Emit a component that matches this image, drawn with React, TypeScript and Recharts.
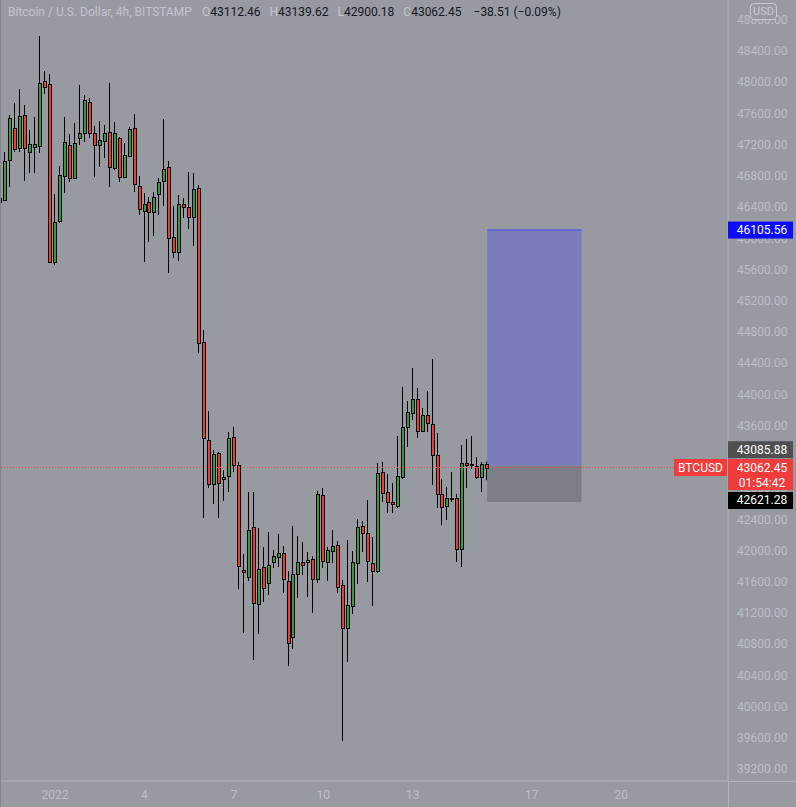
import React from 'react';
import {
  ComposedChart,
  Bar,
  XAxis,
  YAxis,
  ReferenceLine,
  ReferenceArea,
} from 'recharts';

// BTCUSD 4h candles, first visible bar = Dec 30 04:00 (index 0)
const opens = [
  46465, 46491, 47003, 47413, 47157, 47580, 47106, 47170, 47183, 48016,
  47977, 45696, 46222, 46798, 47196, 46773, 47285, 47349, 47747, 47349,
  47196, 47247, 47362, 46901, 47285, 46786, 47055, 47413, 46670, 46350,
  46465, 46337, 46568, 46734, 46914, 46017, 45825, 46440, 46401, 46273,
  46645, 44671, 43416, 42852, 43249, 42916, 42954, 43454, 43095, 41750,
  41660, 42301, 41314, 41788, 41583, 41852, 41916, 41968, 41609, 40891,
  41699, 41852, 41852, 41891, 41634, 42711, 41852, 41993, 42070, 41558,
  41007, 41289, 41840, 42314, 42224, 41840, 41737, 43005, 42749, 42621,
  42570, 42941, 43582, 43761, 43941, 43531, 43736, 43621, 43223, 42724,
  42570, 42672, 42672, 42019, 43121, 43108, 43082, 42941, 43112.46,
];
const highs = [
  46837, 47106, 47580, 47734, 47913, 47708, 47388, 47554, 48592, 48144,
  48105, 46568, 46926, 47554, 47336, 47477, 47964, 47836, 47798, 47439,
  47503, 47452, 47990, 47490, 47298, 47221, 47426, 47593, 46798, 46581,
  46529, 46593, 46773, 47529, 46990, 46414, 46555, 46516, 46850, 46837,
  46683, 44825, 43787, 43287, 43262, 43031, 43518, 43582, 43134, 41955,
  42749, 42749, 42288, 42045, 42237, 42006, 42211, 42057, 41737, 42314,
  42186, 42109, 41980, 41929, 42762, 42800, 42045, 42262, 42121, 41622,
  42134, 41993, 42403, 42378, 42647, 42173, 43121, 43134, 42980, 42865,
  43467, 44095, 43915, 44338, 44082, 43826, 44043, 44453, 43505, 42916,
  42813, 43005, 42724, 43351, 43428, 43467, 43198, 43134, 43139.62,
];
const lows = [
  45940, 46478, 46657, 47106, 47106, 46734, 46837, 46837, 47093, 47849,
  45684, 45658, 46196, 46581, 46721, 46773, 47196, 47234, 47285, 46786,
  46914, 47029, 46657, 46875, 46721, 46786, 47055, 46593, 46299, 45696,
  45953, 46030, 46299, 46414, 45555, 45748, 45709, 46260, 46119, 45901,
  44530, 42416, 42800, 42596, 42416, 42634, 42749, 43005, 41506, 40943,
  41609, 40597, 40930, 41340, 41429, 41775, 41788, 41455, 40520, 40738,
  41391, 41686, 41404, 41199, 41583, 41775, 41609, 41840, 41455, 39559,
  40571, 41186, 41570, 41980, 41596, 41289, 41711, 42621, 42480, 42480,
  42544, 42916, 43326, 43672, 43441, 43518, 43518, 42839, 42544, 42326,
  42391, 42621, 41852, 41788, 42800, 43044, 42916, 42749, 42900.18,
];
const closes = [
  46516, 46990, 47541, 47144, 47567, 47157, 47208, 47208, 47990, 47939,
  45696, 46209, 46811, 47234, 46773, 47221, 47349, 47772, 47349, 47196,
  47260, 47349, 46914, 47349, 46786, 47067, 47401, 46696, 46376, 46440,
  46337, 46529, 46721, 46888, 46004, 45825, 46440, 46401, 46273, 46632,
  44658, 43441, 42852, 43236, 42865, 42941, 43441, 43095, 41801, 41724,
  42262, 41327, 41763, 41519, 41814, 41929, 41968, 41634, 40814, 41699,
  41852, 41814, 41878, 41634, 42724, 41865, 42006, 42057, 41532, 41007,
  41301, 41852, 42301, 42224, 41865, 41737, 42993, 42736, 42621, 42596,
  42954, 43582, 43774, 43941, 43531, 43736, 43633, 43223, 42724, 42557,
  42672, 42666, 42019, 43121, 43095, 43102, 42941, 43108, 43062.45,
];

// time slots on the axis (4h each), includes empty future space
const SLOTS = 147;
const dayTicks = [11, 29, 47, 65, 83, 107, 125];
const dayLabels = ['2022', '4', '7', '10', '13', '17', '20'];
const priceTicks = [
  39200, 39600, 40000, 40400, 40800, 41200, 41600, 42000, 42400, 42800, 43200,
  43600, 44000, 44400, 44800, 45200, 45600, 46000, 46400, 46800, 47200, 47600,
  48000, 48400, 48800,
];
const priceDomain = [39046, 49053.5];

// long position tool
const position = { from: 98, to: 117, entry: 43085.88, target: 46105.56, stop: 42621.28 };
const lastPrice = 43062.45;
const countdown = '01:54:42';

const BG = '#989aa2';
const AXIS_TEXT = '#bdbfc6';
const AXIS_LINE = '#b3b5bc';
const GREEN = '#3a9b3c';
const RED = '#f23b33';
const FONT = 'Roboto, "Liberation Sans", sans-serif';

const rows = Array.from({ length: SLOTS }, (_, i) =>
  i < opens.length
    ? { i, o: opens[i], h: highs[i], l: lows[i], c: closes[i], range: [lows[i], highs[i]] }
    : { i, range: null }
);

const Candle = (props: any) => {
  const { x, y, width, height, payload } = props;
  if (!payload || payload.o == null || height == null) return null;
  const { o, h, l, c } = payload;
  const top = Math.min(y, y + height);
  const bot = Math.max(y, y + height);
  const k = (bot - top) / (h - l || 1);
  const px = Math.round(x + width / 2);
  const yO = top + (h - o) * k;
  const yC = top + (h - c) * k;
  const bTop = Math.round(Math.min(yO, yC)) + 0.5;
  const bH = Math.max(Math.round(Math.abs(yO - yC)), 1);
  return (
    <g>
      <line x1={px - 0.5} x2={px - 0.5} y1={top} y2={bot} stroke="#000" strokeWidth={1} />
      <rect
        x={px - 2 + 0.5}
        y={bTop}
        width={3}
        height={bH}
        fill={c >= o ? GREEN : RED}
        stroke="#000"
        strokeWidth={1}
      />
    </g>
  );
};

const PriceTag = ({ viewBox, text, sub, bg, shift = 0, side }: any) => {
  if (!viewBox) return null;
  const right = viewBox.x + viewBox.width;
  const cy = viewBox.y + shift;
  const h = sub ? 31 : 17;
  const top = cy - 8.5;
  return (
    <g>
      <rect x={right} y={top} width={65} height={h} fill={bg} />
      <text x={right + 34} y={cy} textAnchor="middle" dominantBaseline="central" fill="#fff" fontSize={12} fontFamily={FONT}>
        {text}
      </text>
      {sub && (
        <text x={right + 34} y={cy + 15} textAnchor="middle" dominantBaseline="central" fill="#fff" fontSize={12} fontFamily={FONT}>
          {sub}
        </text>
      )}
      {side && (
        <g>
          <rect x={right - 54} y={top} width={53} height={17} fill={bg} />
          <text x={right - 27.5} y={cy} textAnchor="middle" dominantBaseline="central" fill="#fff" fontSize={12} fontFamily={FONT}>
            {side}
          </text>
        </g>
      )}
    </g>
  );
};

const faded = { color: '#c3c5cc' };
const dark = { color: '#131722' };

// axes shared by the candle chart and the price-tag overlay
const timeAxis = (showTicks: boolean) => (
  <XAxis
    dataKey="i"
    type="category"
    ticks={dayTicks}
    interval={0}
    tickFormatter={(v: number) => dayLabels[dayTicks.indexOf(v)] ?? ''}
    tickLine={false}
    tickSize={0}
    tickMargin={9}
    height={26}
    axisLine={showTicks ? { stroke: AXIS_LINE } : false}
    tick={showTicks ? { fill: AXIS_TEXT, fontSize: 12, fontFamily: FONT } : false}
  />
);
const priceAxis = (showTicks: boolean) => (
  <YAxis
    orientation="right"
    type="number"
    domain={priceDomain}
    allowDataOverflow
    ticks={priceTicks}
    interval={0}
    tickFormatter={(v: number) => v.toFixed(2)}
    tickLine={false}
    tickSize={0}
    tickMargin={9}
    width={68}
    axisLine={showTicks ? { stroke: AXIS_LINE } : false}
    tick={showTicks ? { fill: AXIS_TEXT, fontSize: 12, fontFamily: FONT, textAnchor: 'start' } : false}
  />
);

export default function App() {
  return (
    <div
      style={{
        position: 'absolute',
        left: 0,
        top: 0,
        width: 796,
        height: 807,
        overflow: 'hidden',
        background: BG,
        fontFamily: FONT,
      }}
    >
      <div style={{ position: 'absolute', left: -2, top: 0 }}>
        <ComposedChart width={798} height={807} data={rows} margin={{ top: 0, right: 0, bottom: 0, left: 0 }}>
          {timeAxis(true)}
          <XAxis xAxisId="t" dataKey="i" type="number" domain={[-0.5, SLOTS - 0.5]} allowDataOverflow hide />
          {priceAxis(true)}
          <ReferenceArea
            xAxisId="t"
            x1={position.from}
            x2={position.to}
            y1={position.entry}
            y2={position.target}
            fill="#7a7dba"
            fillOpacity={1}
            stroke="none"
          />
          <ReferenceArea
            xAxisId="t"
            x1={position.from}
            x2={position.to}
            y1={position.stop}
            y2={position.entry}
            fill="#7c7e86"
            fillOpacity={1}
            stroke="none"
          />
          <ReferenceLine
            xAxisId="t"
            segment={[
              { x: position.from, y: position.target },
              { x: position.to, y: position.target },
            ]}
            stroke="#5b5fd4"
            strokeWidth={1.5}
          />
          <ReferenceLine y={lastPrice} stroke="#f24a4a" strokeDasharray="1 2" />
          <Bar dataKey="range" shape={<Candle />} isAnimationActive={false} />
        </ComposedChart>
      </div>

      {/* price tags drawn on top of the axis labels */}
      <div style={{ position: 'absolute', left: -2, top: 0, pointerEvents: 'none' }}>
        <ComposedChart width={798} height={807} data={rows} margin={{ top: 0, right: 0, bottom: 0, left: 0 }}>
          {timeAxis(false)}
          {priceAxis(false)}
          <ReferenceLine
            y={position.target}
            stroke="none"
            label={(p: any) => <PriceTag {...p} text={position.target.toFixed(2)} bg="#0c0cfa" />}
          />
          <ReferenceLine
            y={position.entry}
            stroke="none"
            label={(p: any) => <PriceTag {...p} text={position.entry.toFixed(2)} bg="#4f4f52" shift={-16} />}
          />
          <ReferenceLine
            y={position.stop}
            stroke="none"
            label={(p: any) => <PriceTag {...p} text={position.stop.toFixed(2)} bg="#000" shift={-1.5} />}
          />
          <ReferenceLine
            y={lastPrice}
            stroke="none"
            label={(p: any) => (
              <PriceTag {...p} text={lastPrice.toFixed(2)} sub={countdown} side="BTCUSD" bg="#f23b3b" />
            )}
          />
        </ComposedChart>
      </div>

      {/* pane border pieces */}
      <div style={{ position: 'absolute', left: 0, top: 0, width: 1, height: 807, background: '#80838b' }} />
      <div style={{ position: 'absolute', left: 728, top: 781, width: 1, height: 26, background: AXIS_LINE }} />
      <div style={{ position: 'absolute', left: 728, top: 781, width: 68, height: 1, background: AXIS_LINE }} />

      {/* currency button */}
      <div
        style={{
          position: 'absolute',
          left: 750,
          top: 3,
          width: 25,
          height: 15,
          border: '1px solid #c9cbd1',
          borderRadius: 4,
          background: BG,
          color: '#c9cbd1',
          fontSize: 11,
          lineHeight: '15px',
          textAlign: 'center',
        }}
      >
        USD
      </div>

      {/* legend */}
      <div style={{ position: 'absolute', left: 8, top: 4, fontSize: 12, lineHeight: '16px', whiteSpace: 'nowrap' }}>
        <span style={faded}>Bitcoin / U.S. Dollar, 4h, BITSTAMP</span>
        <span style={{ ...faded, marginLeft: 10 }}>O</span>
        <span style={dark}>43112.46</span>
        <span style={{ ...faded, marginLeft: 9 }}>H</span>
        <span style={dark}>43139.62</span>
        <span style={{ ...faded, marginLeft: 9 }}>L</span>
        <span style={dark}>42900.18</span>
        <span style={{ ...faded, marginLeft: 9 }}>C</span>
        <span style={dark}>43062.45</span>
        <span style={{ ...dark, marginLeft: 12 }}>−38.51 (−0.09%)</span>
      </div>
    </div>
  );
}
